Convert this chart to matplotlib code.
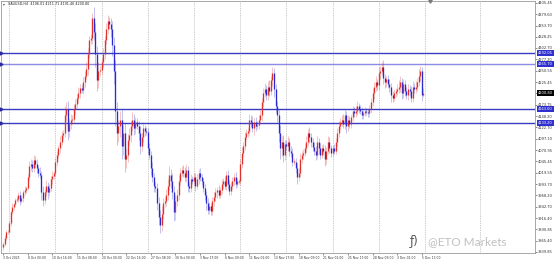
import matplotlib.pyplot as plt

# XAUUSD H4 closes, 3 Oct 2025 08:00 .. 5 Dec 2025 (six bars per day)
first_open = 3850.0
closes = [
    3858, 3872, 3884, 3886,
    3905, 3930, 3942, 3948, 3958, 3960,
    3968, 3955, 3962, 3975, 3980, 3985,
    4010, 4035, 4040, 4030, 4048, 4040,
    4030, 4020, 4015, 3975, 3958, 3975,
    3990, 3975, 3985, 4005, 4012, 4018,
    4045, 4060, 4075, 4090, 4105, 4110,
    4150, 4165, 4115, 4130, 4140, 4142,
    4165, 4175, 4190, 4200, 4212, 4208,
    4225, 4240, 4255, 4290, 4320, 4326,
    4370, 4340, 4290, 4230, 4250, 4252,
    4270, 4290, 4320, 4345, 4365, 4356,
    4345, 4310, 4250, 4160, 4110, 4125,
    4140, 4080, 4110, 4050, 4060, 4095,
    4105, 4125, 4140, 4120, 4135, 4126,
    4110, 4080, 4100, 4120, 4115, 4112,
    4075, 4060, 4030, 4010, 3990, 3985,
    3950, 3920, 3900, 3925, 3950, 3955,
    3970, 3990, 4015, 4000, 3975, 3930,
    3955, 3970, 4000, 4020, 4025, 4020,
    4010, 4025, 3990, 3985, 4005, 4000,
    4010, 3990, 4005, 4020, 4010, 4000,
    3985, 3970, 3950, 3935, 3945, 3932,
    3955, 3965, 3975, 3980, 3970, 3980,
    3995, 4000, 3990, 4015, 3995, 3978,
    3990, 4000, 4010, 3995, 4000, 4000,
    4040, 4065, 4080, 4100, 4110, 4115,
    4140, 4135, 4120, 4135, 4125, 4128,
    4140, 4150, 4180, 4200, 4210, 4195,
    4215, 4205, 4230, 4245, 4210, 4170,
    4150, 4110, 4075, 4090, 4060, 4085,
    4080, 4090, 4070, 4065, 4045, 4045,
    4030, 4010, 4020, 4050, 4060, 4065,
    4075, 4090, 4110, 4100, 4090, 4078,
    4070, 4060, 4090, 4075, 4060, 4075,
    4070, 4050, 4070, 4090, 4075, 4065,
    4075, 4070, 4090, 4110, 4125, 4135,
    4140, 4130, 4150, 4125, 4140, 4130,
    4145, 4160, 4155, 4160, 4170, 4165,
    4160, 4150, 4155, 4160, 4158, 4155,
    4165, 4180, 4200, 4215, 4225, 4218,
    4245, 4250, 4260, 4235, 4225, 4232,
    4220, 4215, 4195, 4190, 4200, 4205,
    4210, 4215, 4225, 4200, 4220, 4205,
    4195, 4210, 4205, 4190, 4215, 4210,
    4215, 4225, 4240, 4250, 4196.01, 4200.80,
]
up_wick = [
    4, 6, 5, 3,
    6, 5, 8, 4, 5, 7,
    8, 10, 6, 5, 9, 4,
    6, 12, 10, 8, 11, 9,
    10, 8, 12, 9, 15, 8,
    12, 9, 10, 8, 11, 6,
    8, 10, 7, 12, 9, 6,
    20, 15, 18, 12, 14, 8,
    10, 12, 9, 14, 10, 8,
    12, 10, 15, 12, 10, 9,
    12, 25, 20, 18, 22, 10,
    10, 12, 9, 15, 12, 8,
    15, 20, 18, 25, 20, 15,
    20, 25, 18, 22, 15, 12,
    15, 12, 18, 14, 10, 9,
    12, 15, 10, 14, 9, 8,
    10, 12, 9, 14, 10, 8,
    12, 15, 14, 18, 12, 10,
    12, 15, 20, 14, 18, 15,
    14, 12, 15, 10, 9, 12,
    12, 14, 10, 9, 12, 8,
    10, 9, 12, 8, 10, 7,
    8, 10, 9, 12, 8, 7,
    9, 12, 10, 8, 11, 7,
    10, 8, 12, 9, 11, 7,
    8, 10, 9, 12, 7, 6,
    10, 12, 9, 11, 8, 7,
    12, 10, 14, 9, 11, 8,
    10, 12, 9, 11, 14, 8,
    12, 15, 10, 14, 12, 10,
    12, 15, 18, 14, 16, 10,
    10, 12, 9, 11, 10, 8,
    9, 12, 10, 14, 9, 8,
    10, 12, 9, 14, 10, 8,
    12, 10, 14, 9, 11, 8,
    10, 12, 9, 14, 10, 7,
    8, 10, 9, 11, 12, 8,
    10, 12, 14, 9, 11, 8,
    9, 11, 8, 10, 12, 7,
    8, 9, 7, 8, 6, 7,
    9, 10, 12, 11, 14, 8,
    14, 12, 10, 15, 9, 8,
    10, 12, 9, 11, 10, 8,
    12, 14, 15, 10, 12, 9,
    10, 12, 9, 11, 12, 8,
    12, 10, 14, 12, 10, 10.91,
]
down_wick = [
    5, 4, 6, 4,
    4, 6, 3, 7, 5, 4,
    6, 9, 5, 8, 6, 7,
    5, 7, 12, 8, 9, 10,
    12, 10, 8, 18, 14, 9,
    8, 15, 9, 7, 10, 6,
    5, 9, 8, 10, 7, 8,
    10, 12, 20, 15, 11, 9,
    8, 11, 9, 12, 10, 7,
    9, 10, 8, 14, 11, 8,
    15, 20, 30, 25, 18, 12,
    8, 10, 12, 9, 11, 10,
    18, 25, 30, 35, 28, 20,
    25, 30, 20, 28, 20, 15,
    12, 15, 10, 14, 12, 8,
    15, 18, 12, 10, 11, 7,
    12, 10, 15, 12, 14, 9,
    15, 20, 18, 12, 10, 9,
    10, 12, 9, 15, 14, 20,
    18, 10, 12, 9, 8, 10,
    10, 12, 14, 9, 8, 7,
    9, 12, 8, 10, 9, 8,
    10, 12, 15, 10, 9, 8,
    8, 10, 9, 12, 8, 7,
    9, 11, 8, 10, 12, 8,
    10, 8, 9, 11, 8, 7,
    8, 10, 9, 8, 7, 9,
    10, 12, 9, 14, 10, 7,
    9, 8, 12, 10, 9, 11,
    10, 12, 9, 14, 18, 15,
    15, 20, 25, 18, 15, 12,
    9, 10, 12, 9, 11, 8,
    12, 15, 10, 9, 8, 10,
    8, 9, 10, 12, 11, 9,
    10, 12, 9, 14, 10, 8,
    9, 14, 10, 8, 11, 9,
    7, 9, 8, 10, 9, 8,
    9, 10, 12, 15, 10, 8,
    8, 9, 10, 8, 9, 10,
    7, 8, 9, 6, 7, 8,
    8, 9, 10, 12, 9, 10,
    10, 12, 9, 14, 12, 10,
    9, 12, 14, 10, 8, 9,
    10, 9, 12, 14, 10, 11,
    9, 10, 12, 11, 9, 10,
    10, 9, 8, 12, 14, 4.55,
]

y_ticks = [4405.45, 4379.60, 4353.70, 4328.25, 4302.70, 4277.20, 4250.55,
           4225.45, 4199.90, 4173.75, 4148.20, 4122.70, 4097.10, 4070.95,
           4045.45, 4019.55, 3993.70, 3968.20, 3942.70, 3916.40, 3890.85,
           3865.40, 3839.85]
x_labels = ['3 Oct 2025', '8 Oct 00:00', '10 Oct 16:00', '15 Oct 08:00',
            '20 Oct 00:00', '22 Oct 16:00', '27 Oct 08:00', '30 Oct 00:00',
            '3 Nov 17:00', '6 Nov 09:00', '11 Nov 01:00', '13 Nov 17:00',
            '18 Nov 09:00', '21 Nov 01:00', '25 Nov 17:00', '28 Nov 09:00',
            '3 Dec 01:00', '5 Dec 13:00']
levels = [4292.05, 4265.70, 4163.60, 4133.20]
last_price = 4200.80
title = 'XAUUSD,H4  4196.01 4211.71 4191.46 4200.80'

bull = '#e0302c'
bear = '#2a2ad2'

fig = plt.figure(figsize=(5.54, 2.62), dpi=100)
ax = fig.add_axes([1 / 554, 9.5 / 262, 534 / 554, 251.5 / 262])

opens = [first_open] + closes[:-1]
xs = list(range(len(closes)))
hi, lo, top, bot, cols = [], [], [], [], []
for o, c, u, d in zip(opens, closes, up_wick, down_wick):
    t, b = max(o, c), min(o, c)
    if t - b < 1.5:
        t, b = t + 0.75, b - 0.75
    hi.append(max(o, c) + u)
    lo.append(min(o, c) - d)
    top.append(t)
    bot.append(b)
    cols.append(bull if c >= o else bear)

ax.vlines(xs, lo, hi, colors=cols, lw=0.45, alpha=0.45, zorder=3)
ax.vlines(xs, bot, top, colors=cols, lw=0.95, zorder=4)

# weekly grid
for b in [4, 34, 64, 94, 124, 154, 184, 214, 244, 274, 310]:
    ax.axvline(b, color='#9a9a9a', lw=0.5, ls=(0, (1, 1.5)), zorder=1)

level_cols = ['#3b3bc4', '#8c8ce6', '#3b3bc4', '#3b3bc4']
for lv, lc in zip(levels, level_cols):
    ax.axhline(lv, color=lc, lw=1.0, zorder=2)
    ax.plot([-1.3], [lv], marker='>', ms=2.2, color='#2a2aa0',
            clip_on=False, zorder=5)
    ax.annotate(f'{lv:.2f}', xy=(1.006, lv), xycoords=('axes fraction', 'data'),
                fontsize=2.6, color='white', va='center', ha='left',
                annotation_clip=False, zorder=6,
                bbox=dict(boxstyle='square,pad=0.25', fc='#3030d0', ec='none'))
ax.annotate(f'{last_price:.2f}', xy=(1.006, last_price),
            xycoords=('axes fraction', 'data'), fontsize=2.6, color='white',
            va='center', ha='left', annotation_clip=False, zorder=6,
            bbox=dict(boxstyle='square,pad=0.25', fc='black', ec='none'))

# chart shift marker at the top
ax.plot([len(closes) + 3], [4408.5], marker='v', ms=2.5, color='#777777',
        clip_on=False, zorder=6)

ax.set_xlim(-1.3, 345.5)
ax.set_ylim(3838.6, 4409.3)
ax.yaxis.tick_right()
ax.set_yticks(y_ticks)
ax.set_yticklabels([f'{v:.2f}' for v in y_ticks])
ax.set_xticks(list(range(0, 16 * len(x_labels), 16)))
ax.set_xticklabels(x_labels, ha='left')
ax.tick_params(axis='y', labelsize=2.6, length=1.5, width=0.4, pad=0.8,
               colors='#333333')
ax.tick_params(axis='x', labelsize=2.2, length=1.5, width=0.4, pad=1.0,
               colors='#333333')
for s in ax.spines.values():
    s.set_color('#9a9a9a')
    s.set_linewidth(0.6)

fig.text(3 / 554, 1 - 4 / 262, '\u25be', fontsize=2.6, va='center',
         color='#444444')
fig.text(8 / 554, 1 - 4 / 262, title, fontsize=2.4, va='center',
         color='#222222')
fig.text(410 / 554, 20 / 262, '\u0192)', fontsize=8.5, va='center',
         color='#555555', family='DejaVu Sans')
fig.text(428 / 554, 20 / 262, '@ETO Markets', fontsize=8.5, va='center',
         color='#c0c0c0', family='Lato')

fig.savefig('out.png', dpi=100, facecolor='white')
